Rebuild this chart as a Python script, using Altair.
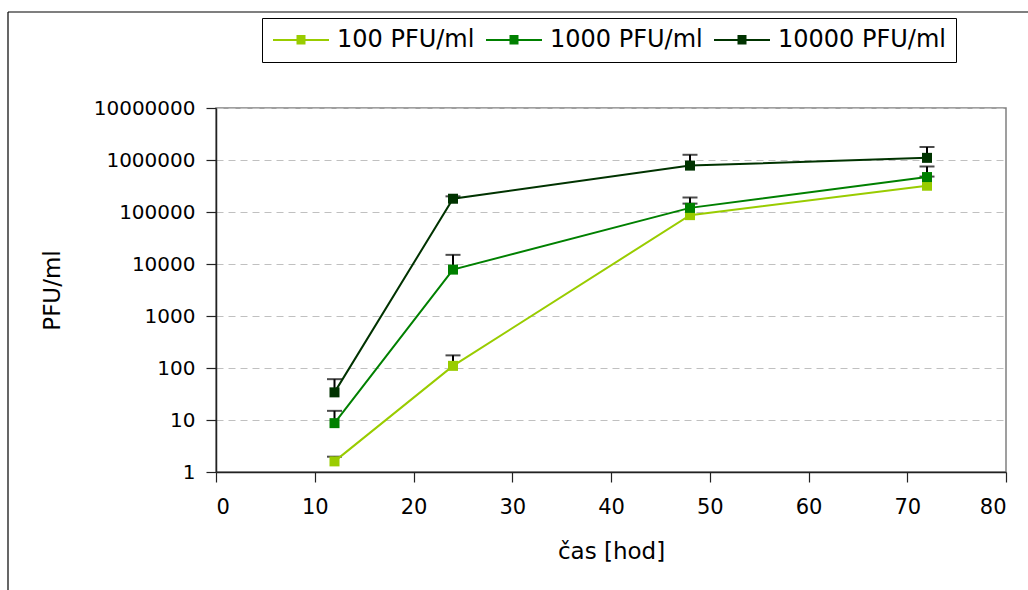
import altair as alt
import pandas as pd

# ---- data ----
hours = [12, 24, 48, 72]
series_names = ["100 PFU/ml", "1000 PFU/ml", "10000 PFU/ml"]
pfu_100 = [1.6, 110, 87000, 320000]
pfu_1000 = [8.7, 7800, 120000, 470000]
pfu_10000 = [34, 180000, 780000, 1100000]
upper_100 = [1.97, 175, 145000, 480000]
upper_1000 = [15, 15000, 190000, 750000]
upper_10000 = [61, 200000, 1260000, 1780000]
series_colors = ["#99CC00", "#008000", "#003300"]
x_ticks = [0, 10, 20, 30, 40, 50, 60, 70, 80]
y_ticks = [1, 10, 100, 1000, 10000, 100000, 1000000, 10000000]

rows = []
for i, (name, vals, ups) in enumerate(zip(series_names,
                                          [pfu_100, pfu_1000, pfu_10000],
                                          [upper_100, upper_1000, upper_10000])):
    for h, v, u in zip(hours, vals, ups):
        rows.append({"series": name, "order": i, "hod": h, "pfu": v, "upper": u})
df = pd.DataFrame(rows)

FONT = "DejaVu Sans"

x_axis = alt.Axis(values=x_ticks, title="čas [hod]", grid=False,
                  domainColor="#222222", domainWidth=1.5, tickColor="#222222",
                  tickSize=10, tickWidth=1.2, labelFont=FONT, labelFontSize=21,
                  labelColor="black", labelPadding=14, titleFont=FONT,
                  titleFontSize=23, titleFontWeight="normal", titleColor="black",
                  titleY=79, titleBaseline="middle")
y_axis = alt.Axis(values=y_ticks, format="d", title="PFU/ml", grid=True,
                  gridColor="#c0c0c0", gridDash=[7, 5], gridWidth=1,
                  domainColor="#222222", domainWidth=1.5, tickColor="#222222",
                  tickSize=10, tickWidth=1.2, labelFont=FONT, labelFontSize=20,
                  labelColor="black", labelPadding=11, titleFont=FONT,
                  titleFontSize=23, titleFontWeight="normal", titleColor="black",
                  titleX=-164, titleY=182, titleAngle=270, titleAlign="center",
                  titleBaseline="middle")

x_scale = alt.Scale(domain=[0, 80], nice=False, zero=False)
y_scale = alt.Scale(type="log", domain=[1, 10000000], nice=False)
c_scale = alt.Scale(domain=series_names, range=series_colors)

X = alt.X("hod:Q", scale=x_scale, axis=x_axis)
Y = alt.Y("pfu:Q", scale=y_scale, axis=y_axis)

# legend symbol: a line with a (stroke-filled) square marker in the middle
sq = "".join("M-0.9,%.2fH0.9" % v for v in [-0.8, -0.5, -0.2, 0.1, 0.4, 0.7])
legend = alt.Legend(
    title=None, orient="none", legendX=46, legendY=-90,
    direction="horizontal", columns=3,
    symbolType="M-5.6,0H5.6" + sq,
    symbolSize=100, symbolStrokeWidth=2, symbolOffset=17,
    labelOffset=24, columnPadding=7, padding=10, labelLimit=400,
    labelFont=FONT, labelFontSize=24, labelColor="black",
    strokeColor="black", fillColor="white",
)

base = alt.Chart(df)

err = base.mark_rule(color="black", strokeWidth=2).encode(
    x=X, y=Y, y2="upper:Q")
caps = base.mark_tick(color="black", orient="horizontal", size=15,
                      thickness=2).encode(
    x=X, y=alt.Y("upper:Q", scale=y_scale, axis=y_axis))
lines = base.mark_line(strokeWidth=2).encode(
    x=X, y=Y,
    color=alt.Color("series:N", scale=c_scale, legend=legend),
    order="hod:Q")
pts = base.mark_point(shape="square", filled=True, size=100,
                      opacity=1, strokeWidth=1).encode(
    x=X, y=Y,
    fill=alt.Fill("series:N", scale=c_scale, legend=None),
    order="order:Q")

frame_df = pd.DataFrame({"k": [0]})
frame_left = alt.Chart(frame_df).mark_rule(color="black", strokeWidth=1.2).encode(
    x=alt.value(-208), y=alt.value(-96), y2=alt.value(482))
frame_top = alt.Chart(frame_df).mark_rule(color="black", strokeWidth=1.2).encode(
    x=alt.value(-208), x2=alt.value(812), y=alt.value(-96))

chart = alt.layer(err, caps, lines, pts, frame_left, frame_top).properties(
    width=790, height=364,
    autosize=alt.AutoSizeParams(type="none"),
    padding={"left": 216, "top": 108, "right": 22, "bottom": 118},
    background="white",
).configure_view(stroke="#808080", strokeWidth=1.5)

chart.save("out.html", embed_options={"renderer": "svg", "actions": False})
